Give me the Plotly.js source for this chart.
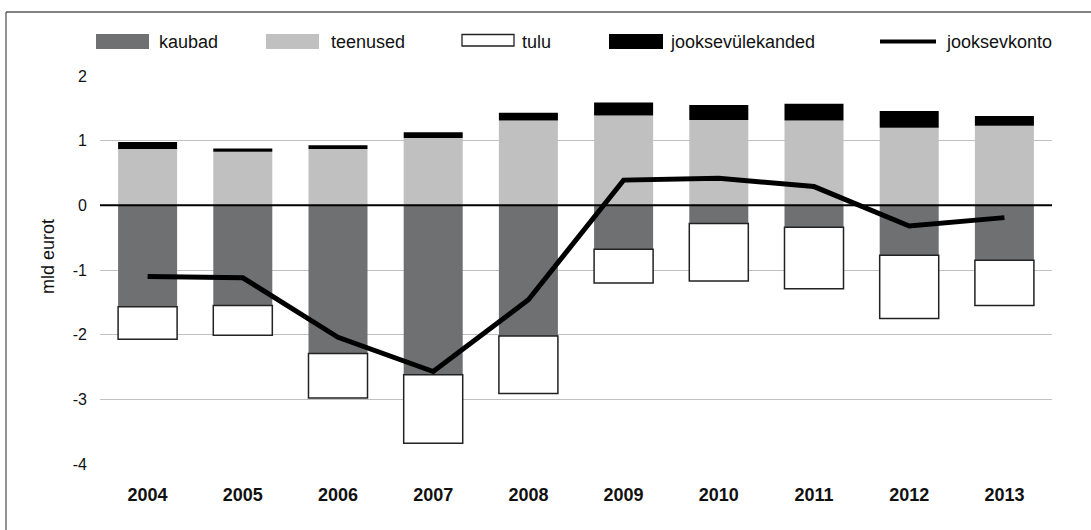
<!DOCTYPE html>
<html>
<head>
<meta charset="utf-8">
<script src="https://cdn.plot.ly/plotly-3.0.1.min.js"></script>
<style>
html, body { margin: 0; padding: 0; background: #fff; }
#chart { width: 1091px; height: 530px; }
</style>
</head>
<body>
<div id="chart"></div>
<script>
// ---- data ----
var years = ['2004','2005','2006','2007','2008','2009','2010','2011','2012','2013'];
var kaubad = [-1.57, -1.55, -2.29, -2.62, -2.02, -0.68, -0.28, -0.34, -0.77, -0.85];
var teenused = [0.87, 0.83, 0.87, 1.04, 1.31, 1.39, 1.32, 1.31, 1.20, 1.23];
var tulu = [-0.50, -0.46, -0.69, -1.06, -0.89, -0.52, -0.89, -0.95, -0.98, -0.70];
var jooksevulekanded = [0.11, 0.05, 0.06, 0.09, 0.12, 0.20, 0.23, 0.26, 0.26, 0.15];
var jooksevkonto = [-1.10, -1.12, -2.04, -2.57, -1.46, 0.39, 0.42, 0.29, -0.32, -0.19];
var yTicks = [-4, -3, -2, -1, 0, 1, 2];
var legendNames = ['kaubad', 'teenused', 'tulu', 'jooksevülekanded', 'jooksevkonto'];
var yTitle = 'mld eurot';

// ---- layout geometry ----
var W = 1091, H = 530;
var M = {l: 100, r: 39, t: 76, b: 66};
var PW = W - M.l - M.r, PH = H - M.t - M.b;
function px(x) { return (x - M.l) / PW; }
function py(y) { return (H - M.b - y) / PH; }

var FONT = "'Liberation Sans', Arial, Helvetica, sans-serif";
var cKaubad = '#6f7072', cTeenused = '#c0c0c0';

var traces = [
  {type: 'bar', x: years, y: kaubad, name: legendNames[0], marker: {color: cKaubad, line: {width: 0}}},
  {type: 'bar', x: years, y: teenused, name: legendNames[1], marker: {color: cTeenused, line: {width: 0}}},
  {type: 'bar', x: years, y: tulu, name: legendNames[2], marker: {color: '#ffffff', line: {color: '#222222', width: 1.5}}},
  {type: 'bar', x: years, y: jooksevulekanded, name: legendNames[3], marker: {color: '#000000', line: {width: 0}}},
  {type: 'scatter', mode: 'lines', x: years, y: jooksevkonto, name: legendNames[4], line: {color: '#000000', width: 5}}
];

// custom legend (swatches + labels)
var shapes = [];
var annotations = [];
var sw = [
  {x0: 96, x1: 149, y0: 34, y1: 49, fill: cKaubad, lw: 0, tx: 157},
  {x0: 266, x1: 319, y0: 34, y1: 49, fill: cTeenused, lw: 0, tx: 329},
  {x0: 462, x1: 514, y0: 34.5, y1: 46, fill: '#ffffff', lw: 1.3, tx: 520},
  {x0: 609, x1: 663, y0: 34, y1: 49, fill: '#000000', lw: 0, tx: 668}
];
sw.forEach(function (s, i) {
  shapes.push({type: 'rect', xref: 'paper', yref: 'paper',
    x0: px(s.x0), x1: px(s.x1), y0: py(s.y1), y1: py(s.y0),
    fillcolor: s.fill, line: {color: '#222222', width: s.lw}});
  annotations.push({xref: 'paper', yref: 'paper', x: px(s.tx), y: py(42), xanchor: 'left', yanchor: 'middle',
    text: legendNames[i], showarrow: false, font: {family: FONT, size: 18, color: '#111'}});
});
shapes.push({type: 'line', xref: 'paper', yref: 'paper', x0: px(880), x1: px(936), y0: py(41.5), y1: py(41.5),
  line: {color: '#000', width: 4}});
annotations.push({xref: 'paper', yref: 'paper', x: px(944), y: py(42), xanchor: 'left', yanchor: 'middle',
  text: legendNames[4], showarrow: false, font: {family: FONT, size: 18, color: '#111'}});

// y axis title
annotations.push({xref: 'paper', yref: 'paper', x: px(48), y: py(257), xanchor: 'center', yanchor: 'middle',
  text: yTitle, textangle: -90, showarrow: false, font: {family: FONT, size: 18, color: '#111'}});

// zero line above bars
shapes.push({type: 'line', xref: 'paper', yref: 'y', x0: 0, x1: 1, y0: 0, y1: 0, layer: 'above',
  line: {color: '#000', width: 2}});

// outer frame (top and left edges)
shapes.push({type: 'line', xref: 'paper', yref: 'paper', x0: px(6), x1: px(1091), y0: py(12), y1: py(12),
  line: {color: '#5a5a5a', width: 1.3}});
shapes.push({type: 'line', xref: 'paper', yref: 'paper', x0: px(6), x1: px(6), y0: py(12), y1: py(530),
  line: {color: '#5a5a5a', width: 1.3}});

var layout = {
  width: W, height: H,
  margin: M,
  paper_bgcolor: '#fff', plot_bgcolor: '#fff',
  barmode: 'relative',
  bargap: 0.38,
  showlegend: false,
  hovermode: false,
  font: {family: FONT, color: '#111'},
  xaxis: {
    type: 'category', showgrid: false, zeroline: false, showline: false, ticks: '',
    tickfont: {family: FONT, size: 18, weight: 'bold', color: '#111'},
    ticklabelstandoff: 18
  },
  yaxis: {
    range: [-4, 2], tickvals: yTicks, ticktext: yTicks.map(String),
    showgrid: true, gridcolor: '#c0c0c0', gridwidth: 1,
    zeroline: false, showline: false, ticks: '',
    tickfont: {family: FONT, size: 16, color: '#111'},
    ticklabelstandoff: 12
  },
  shapes: shapes,
  annotations: annotations
};

Plotly.newPlot('chart', traces, layout, {staticPlot: true, displayModeBar: false});
</script>
</body>
</html>
